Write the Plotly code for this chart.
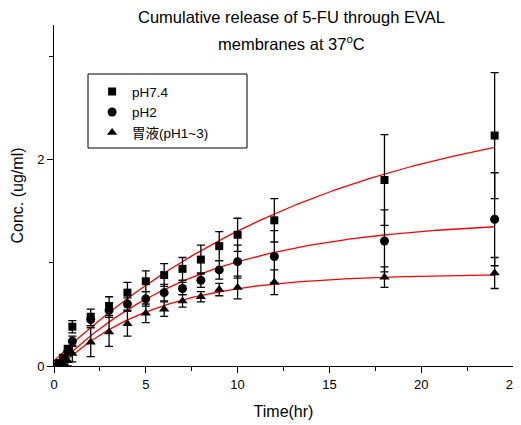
import numpy as np
import plotly.graph_objects as go

# ---- data ----
time_hr = [0.25, 0.5, 0.75, 1, 2, 3, 4, 5, 6, 7, 8, 9, 10, 12, 18, 24]

ph74 = [0.03, 0.08, 0.16, 0.38, 0.47, 0.58, 0.71, 0.82, 0.88, 0.94, 1.03, 1.16, 1.27, 1.41, 1.80, 2.23]
ph74_err = [0.02, 0.03, 0.04, 0.06, 0.08, 0.09, 0.10, 0.10, 0.11, 0.11, 0.14, 0.14, 0.16, 0.21, 0.44, 0.61]

ph2 = [0.02, 0.06, 0.14, 0.24, 0.45, 0.54, 0.60, 0.65, 0.71, 0.75, 0.83, 0.93, 1.01, 1.06, 1.21, 1.42]
ph2_err = [0.02, 0.03, 0.04, 0.05, 0.06, 0.07, 0.06, 0.07, 0.08, 0.06, 0.07, 0.09, 0.16, 0.25, 0.30, 0.45]

gastric = [0.00, 0.02, 0.05, 0.12, 0.23, 0.33, 0.41, 0.51, 0.55, 0.63, 0.67, 0.74, 0.76, 0.81, 0.86, 0.90]
gastric_err = [0.02, 0.03, 0.05, 0.08, 0.14, 0.14, 0.12, 0.09, 0.07, 0.06, 0.05, 0.06, 0.11, 0.12, 0.10, 0.15]

# fitted curves: y = A * (1 - exp(-k t)) + c
fit_ph74 = dict(A=2.6, k=0.066, c=0.05)
fit_ph2 = dict(A=1.447, k=0.1265, c=-0.03)
fit_gastric = dict(A=0.95, k=0.19, c=-0.06)

names = ["pH7.4", "pH2", "胃液(pH1~3)"]
symbols = ["square", "circle", "triangle-up"]

x_ticks = [0, 5, 10, 15, 20, 25]
y_ticks = [0, 2]

title_lines = ["Cumulative release of 5-FU through EVAL", "membranes at 37<sup>o</sup>C"]

# ---- figure ----
fig = go.Figure()
t_fit = np.linspace(0, 24, 200)
for p in (fit_ph74, fit_ph2, fit_gastric):
    fig.add_trace(go.Scatter(
        x=t_fit, y=p["A"] * (1 - np.exp(-p["k"] * t_fit)) + p["c"],
        mode="lines", line=dict(color="#ff0000", width=1.3),
        showlegend=False, hoverinfo="skip"))

for ys, es, nm, sym, sz in zip((ph74, ph2, gastric), (ph74_err, ph2_err, gastric_err),
                               names, symbols, (8, 9, 9)):
    fig.add_trace(go.Scatter(
        x=time_hr, y=ys, mode="markers", name=nm,
        marker=dict(symbol=sym, color="black", size=sz),
        error_y=dict(type="data", array=es, visible=True, color="black",
                     thickness=1.3, width=4)))

font_family = "Liberation Sans, Arial, Noto Sans CJK SC, sans-serif"

# the page body has an 8px margin, so the figure is sized/offset to compensate
fig.update_layout(
    width=513, height=417,
    margin=dict(l=46, r=8, t=17, b=59),
    paper_bgcolor="white", plot_bgcolor="white",
    font=dict(family=font_family, color="black", size=13),
    showlegend=True,
    legend=dict(x=0.083, y=0.85, xanchor="left", yanchor="top",
                bgcolor="rgba(0,0,0,0)", borderwidth=0,
                font=dict(size=13.5, family=font_family), tracegroupgap=0),
    shapes=[dict(type="rect", xref="paper", yref="paper",
                 x0=(88 - 54) / 459, x1=(247 - 54) / 459,
                 y0=(366 - 148) / 341, y1=(366 - 74) / 341,
                 line=dict(color="black", width=1), fillcolor="rgba(0,0,0,0)", layer="above")],
    annotations=[
        dict(text=title_lines[0], xref="paper", yref="paper", x=0.5185, y=(366 - 17) / 341,
             xanchor="center", yanchor="middle", showarrow=False,
             font=dict(size=16.5, family=font_family)),
        dict(text=title_lines[1], xref="paper", yref="paper", x=0.5185, y=(366 - 43) / 341,
             xanchor="center", yanchor="middle", showarrow=False,
             font=dict(size=16.5, family=font_family)),
    ],
)

fig.update_xaxes(
    range=[0, 25], tickvals=x_ticks, ticktext=[str(v) for v in x_ticks],
    showline=True, linecolor="black", linewidth=1, mirror=False,
    ticks="outside", ticklen=6, tickcolor="black", tickwidth=1,
    minor=dict(dtick=2.5, tick0=0, ticks="outside", ticklen=4, tickcolor="black"),
    showgrid=False, zeroline=False, automargin=False,
    title=dict(text="Time(hr)", font=dict(size=16), standoff=15),
    tickfont=dict(size=13),
)
fig.update_yaxes(
    range=[0, 3.3], tickvals=y_ticks, ticktext=[str(v) for v in y_ticks],
    showline=True, linecolor="black", linewidth=1, mirror=False,
    ticks="outside", ticklen=6, tickcolor="black", tickwidth=1,
    minor=dict(dtick=1, tick0=0, ticks="outside", ticklen=4, tickcolor="black"),
    showgrid=False, zeroline=False, automargin=False,
    title=dict(text="Conc. (ug/ml)", font=dict(size=16), standoff=9),
    tickfont=dict(size=13),
)

fig.write_html("out.html")
